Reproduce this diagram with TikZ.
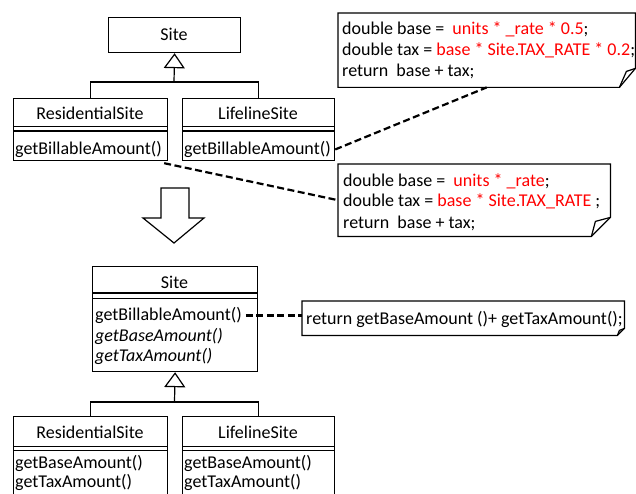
\documentclass[tikz,border=0pt]{standalone}
\usepackage{fontspec}
\setmainfont{Carlito}
\usetikzlibrary{arrows.meta}
\begin{document}
\begin{tikzpicture}[x=1pt,y=-1pt,
  ln/.style={line width=1.2pt},
  box/.style={draw, line width=1.2pt, anchor=north west, inner sep=0pt},
  blank/.style={anchor=north west, inner sep=0pt},
  txt/.style={font=\fontsize{18}{21}\selectfont, inner sep=0pt},
  lt/.style={txt, anchor=base west},
  ct/.style={txt, anchor=base},
  dl/.style={line width=2.2pt, dash pattern=on 7pt off 3.5pt},
  gen/.style={ln, -{Triangle[open, width=21pt, length=15pt, line width=1.2pt]}},
  hl/.style={text=red}
]
\useasboundingbox (0,0) rectangle (636,494);
\clip (0,0) rectangle (636,494);

% ---------- top diagram ----------
\node[box, minimum width=132pt, minimum height=35pt] (site1) at (108,17) {};
\node[ct] (site1n) at (174,41) {Site};

\node[box, minimum width=154pt, minimum height=62pt] (res1) at (13,98) {};
\node[ct] (res1n) at (90,119.5) {ResidentialSite};
\draw[ln] ([yshift=-28.5pt]res1.north west) -- ([yshift=-28.5pt]res1.north east);
\draw[ln] ([yshift=-33pt]res1.north west) -- ([yshift=-33pt]res1.north east);
\node[lt] (res1m) at (15,154.5) {getBillableAmount()};

\node[box, minimum width=152pt, minimum height=62pt] (life1) at (182,98) {};
\node[ct] (life1n) at (258,119.5) {LifelineSite};
\draw[ln] ([yshift=-28.5pt]life1.north west) -- ([yshift=-28.5pt]life1.north east);
\draw[ln] ([yshift=-33pt]life1.north west) -- ([yshift=-33pt]life1.north east);
\node[lt] (life1m) at (184,154.5) {getBillableAmount()};

\coordinate (j1) at (174,82);
\draw[ln] (res1.north) |- (j1) -| (life1.north);
\draw[gen] (j1) -- (site1.south);

% note 1
\node[blank, minimum width=297pt, minimum height=74pt] (note1) at (338,13) {};
\draw[ln] (note1.north west) -- (note1.north east) -- ([yshift=19pt]note1.south east)
  -- ([xshift=-16pt]note1.south east) -- (note1.south west) -- cycle;
\draw[ln] ([xshift=-16pt]note1.south east) -- ([xshift=-9pt,yshift=16pt]note1.south east)
  -- ([yshift=19pt]note1.south east);
\node[lt] (n1a) at (342,35) {double base =\ \ \textcolor{red}{units * \_rate * 0.5};};
\node[lt] (n1b) at (342,56) {double tax = \textcolor{red}{base * Site.TAX\_RATE * 0.2};};
\node[lt] (n1c) at (342,77) {return\ \ base + tax;};

% note 2
\node[blank, minimum width=272pt, minimum height=72pt] (note2) at (338,164) {};
\draw[ln] (note2.north west) -- (note2.north east) -- ([yshift=19pt]note2.south east)
  -- ([xshift=-19pt]note2.south east) -- (note2.south west) -- cycle;
\draw[ln] ([xshift=-19pt]note2.south east) -- ([xshift=-15pt,yshift=15pt]note2.south east)
  -- ([yshift=19pt]note2.south east);
\node[lt] (n2a) at (343,186) {double base =\ \ \textcolor{red}{units * \_rate};};
\node[lt] (n2b) at (343,207) {double tax = \textcolor{red}{base * Site.TAX\_RATE} ;};
\node[lt] (n2c) at (343,228) {return\ \ base + tax;};

\draw[dl] (life1.east |- life1m.center) -- (note1.south);
\draw[dl] ([xshift=-4pt,yshift=-2pt]res1.south east) -- (note2.west);

% big refactoring arrow
\draw[ln] (161,188) -- (189,188) -- (189,218) -- (204,218) -- (174,243)
  -- (143,218) -- (161,218) -- cycle;

% ---------- bottom diagram ----------
\node[box, minimum width=165pt, minimum height=105pt] (site2) at (92,266) {};
\node[ct] (site2n) at (174.5,288) {Site};
\draw[ln] ([yshift=-27pt]site2.north west) -- ([yshift=-27pt]site2.north east);
\draw[ln] ([yshift=-32.5pt]site2.north west) -- ([yshift=-32.5pt]site2.north east);
\node[lt] (s2m1) at (95,320.5) {getBillableAmount()};
\node[lt] (s2m2) at (95,341) {\itshape getBaseAmount()};
\node[lt] (s2m3) at (95,361.5) {\itshape getTaxAmount()};

\node[box, minimum width=154pt, minimum height=100pt] (res2) at (13,416) {};
\node[ct] (res2n) at (90,438.5) {ResidentialSite};
\draw[ln] ([yshift=-30.5pt]res2.north west) -- ([yshift=-30.5pt]res2.north east);
\draw[ln] ([yshift=-34.5pt]res2.north west) -- ([yshift=-34.5pt]res2.north east);
\node[lt] (res2m1) at (15,468.5) {getBaseAmount()};
\node[lt] (res2m2) at (15,487.5) {getTaxAmount()};

\node[box, minimum width=152pt, minimum height=100pt] (life2) at (182,416) {};
\node[ct] (life2n) at (258,438.5) {LifelineSite};
\draw[ln] ([yshift=-30.5pt]life2.north west) -- ([yshift=-30.5pt]life2.north east);
\draw[ln] ([yshift=-34.5pt]life2.north west) -- ([yshift=-34.5pt]life2.north east);
\node[lt] (life2m1) at (184,468.5) {getBaseAmount()};
\node[lt] (life2m2) at (184,487.5) {getTaxAmount()};

\coordinate (j2) at (174.5,402);
\draw[ln] (res2.north) |- (j2) -| (life2.north);
\draw[gen] (j2) -- (site2.south);

% note 3
\node[blank, minimum width=322pt, minimum height=34pt] (note3) at (302,301) {};
\draw[ln] (note3.north west) -- (note3.north east) -- ([yshift=7pt]note3.south east)
  -- ([xshift=-7pt]note3.south east) -- (note3.south west) -- cycle;
\draw[ln] ([xshift=-7pt]note3.south east) -- ([xshift=-5pt,yshift=5pt]note3.south east)
  -- ([yshift=7pt]note3.south east);
\node[lt] (n3) at (306,324.5) {return getBaseAmount ()+ getTaxAmount();};

\draw[dl] ([xshift=4pt]s2m1.east) -- (s2m1.east -| note3.west);
\end{tikzpicture}
\end{document}
